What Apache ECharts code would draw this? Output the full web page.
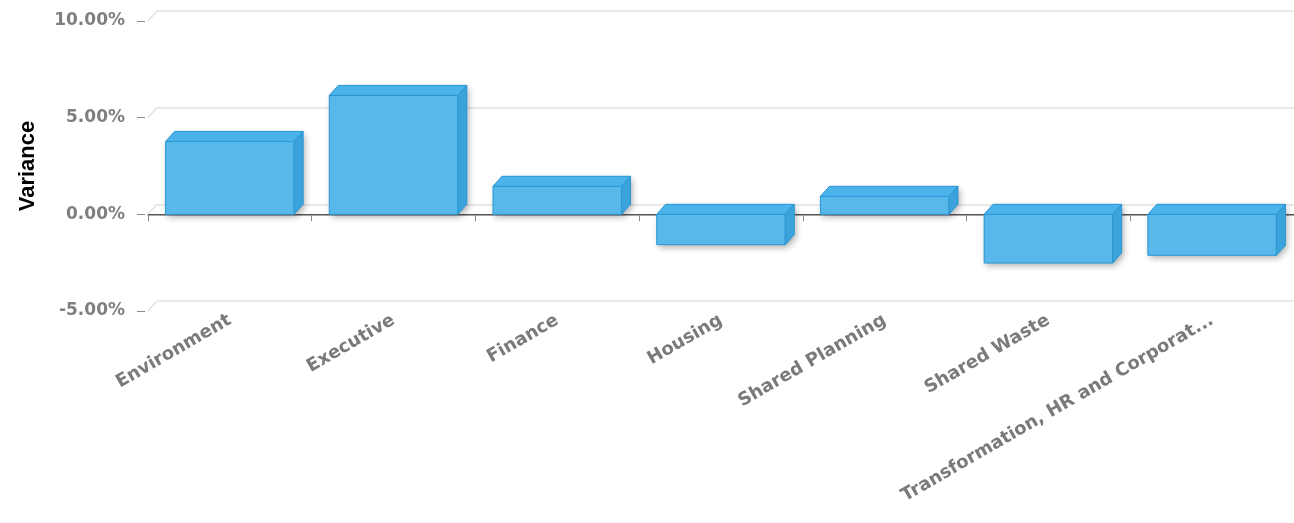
<!DOCTYPE html>
<html>
<head>
<meta charset="utf-8">
<script src="https://cdn.jsdelivr.net/npm/echarts@6/dist/echarts.min.js"></script>
<style>
html,body{margin:0;padding:0;background:#fff;}
#chart{width:1294px;height:523px;}
</style>
</head>
<body>
<div id="chart"></div>
<script>
const categories = ['Environment', 'Executive', 'Finance', 'Housing', 'Shared Planning', 'Shared Waste', 'Transformation, HR and Corporat...'];
const variance = [3.77, 6.15, 1.45, -1.57, 0.93, -2.52, -2.12];
const yTicks = [-5, 0, 5, 10];

const DX = 9, DY = 10;
const chart = echarts.init(document.getElementById('chart'));

function renderBar(params, api) {
  const i = api.value(0), v = api.value(1);
  const p0 = api.coord([i, 0]);
  const p1 = api.coord([i, v]);
  const w = api.size([1, 0])[0] * 0.785;
  const left = p0[0] - w / 2, right = p0[0] + w / 2;
  const top = Math.min(p0[1], p1[1]), bottom = Math.max(p0[1], p1[1]);
  const stroke = '#2a98d6';
  return {
    type: 'group',
    children: [
      { type: 'polygon', shape: { points: [[left, bottom], [left, top], [left + DX, top - DY], [right + DX, top - DY], [right + DX, bottom - DY], [right, bottom]] },
        style: { fill: '#58b7e8', shadowBlur: 6, shadowColor: 'rgba(0,0,0,0.3)', shadowOffsetX: 2, shadowOffsetY: 3 } },
      { type: 'rect', shape: { x: left, y: top, width: w, height: bottom - top },
        style: { fill: '#58b8e9', stroke: stroke, lineWidth: 1 } },
      { type: 'polygon', shape: { points: [[left, top], [left + DX, top - DY], [right + DX, top - DY], [right, top]] },
        style: { fill: '#4cb2ea', stroke: stroke, lineWidth: 1 } },
      { type: 'polygon', shape: { points: [[right, top], [right + DX, top - DY], [right + DX, bottom - DY], [right, bottom]] },
        style: { fill: '#3ca2da', stroke: stroke, lineWidth: 1 } }
    ]
  };
}

const option = {
  animation: false,
  backgroundColor: '#ffffff',
  grid: [
    { left: 148, right: -4, top: 21, bottom: 212 },
    { left: 148 + DX, right: -4 - DX, top: 21 - DY, bottom: 212 + DY }
  ],
  xAxis: [
    {
      type: 'category', gridIndex: 0, data: categories,
      axisLine: { show: true, lineStyle: { color: '#8c8c8c', width: 1.5 } },
      axisTick: { show: true, length: 7, lineStyle: { color: '#8c8c8c' } },
      axisLabel: { interval: 0, rotate: 30, margin: 8, color: '#7a7a7a', fontFamily: 'DejaVu Sans', fontWeight: 'bold', fontSize: 18 },
      splitLine: { show: false }
    },
    { type: 'category', gridIndex: 1, data: categories, show: false }
  ],
  yAxis: [
    {
      type: 'value', gridIndex: 0, min: -5, max: 10, interval: 5, offset: 3,
      name: 'Variance', nameLocation: 'middle', nameRotate: 90, nameGap: 106,
      nameTextStyle: { color: '#000', fontFamily: 'Liberation Sans', fontWeight: 'bold', fontSize: 22 },
      axisLine: { show: false },
      axisTick: { show: true, length: 8, lineStyle: { color: '#8a8a8a' } },
      axisLabel: { margin: 20, color: '#7f7f7f', fontFamily: 'DejaVu Sans', fontWeight: 'bold', fontSize: 17,
        formatter: v => v.toFixed(2) + '%' },
      splitLine: { show: false }
    },
    {
      type: 'value', gridIndex: 1, min: -5, max: 10, interval: 5,
      axisLine: { show: false }, axisTick: { show: false }, axisLabel: { show: false },
      splitLine: { show: true, lineStyle: { color: '#e2e2e2', width: 1.5 } }
    }
  ],
  series: [
    {
      type: 'line', xAxisIndex: 0, yAxisIndex: 0, data: [], silent: true,
      markLine: { symbol: 'none', silent: true, label: { show: false },
        lineStyle: { color: '#555555', type: 'solid', width: 1.2 }, data: [{ yAxis: 0 }] }
    },
    {
      type: 'custom', xAxisIndex: 0, yAxisIndex: 0, renderItem: renderBar,
      data: variance.map((v, i) => [i, v]), z: 5
    }
  ]
};
chart.setOption(option);

const diag = yTicks.map(t => {
  const y = chart.convertToPixel({ yAxisIndex: 0 }, t);
  return { type: 'line', shape: { x1: 148, y1: y, x2: 148 + DX, y2: y - DY }, style: { stroke: '#e2e2e2', lineWidth: 1.5 }, z: 0 };
});
chart.setOption({ graphic: diag });
</script>
</body>
</html>
